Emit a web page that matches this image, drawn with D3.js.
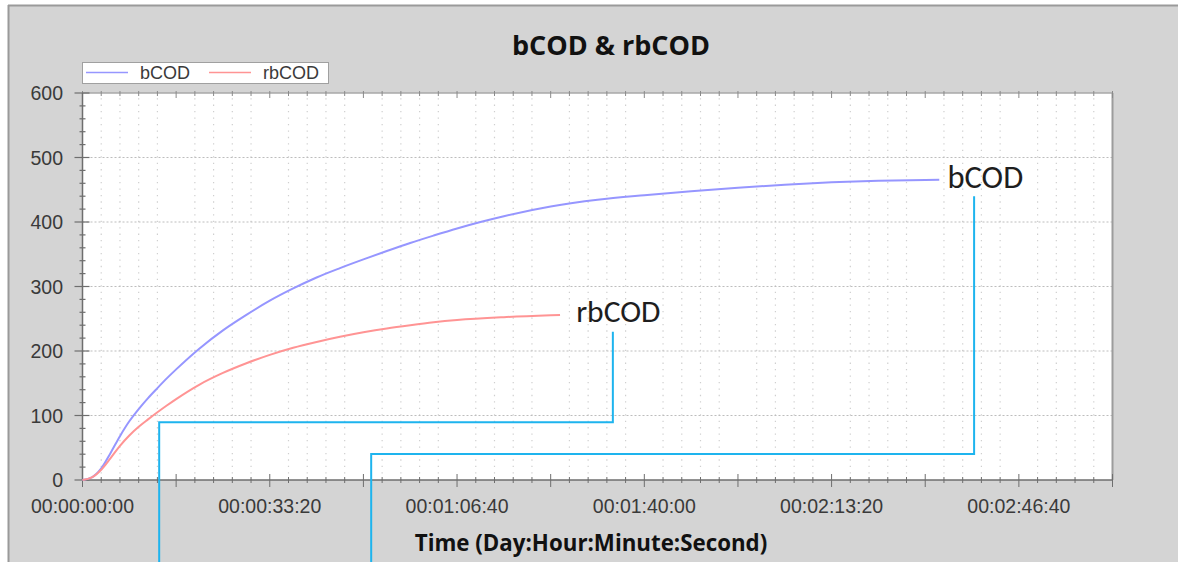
<!DOCTYPE html>
<html><head><meta charset="utf-8">
<script src="https://cdn.jsdelivr.net/npm/d3@7"></script>
<style>
html,body{margin:0;padding:0;background:#fff;}
svg{display:block;}
</style></head>
<body>
<svg id="chart" width="1178" height="562"></svg>
<script>
// ---- data (time in seconds) ----
const bCODTimes = [0,100,200,300,400,500,600,700,800,900,1000,1250,1500,1750,2000,2250,2500,2750,3000,3250,3500,3750,4000,4250,4500,5000,5500,6000,6500,7000,7500,8000,8500,9000,9150];
const bCODValues = [0,4,18,42,68,91,110,127,142.5,157.5,171.5,204,232,256,278,297,314,328.5,342,355,367.5,379,390,400,409,424,434.5,441.5,447.5,453,457.8,461.5,464,465.3,465.5];
const rbCODTimes = [0,100,200,300,400,500,600,700,800,900,1000,1250,1500,1750,2000,2250,2500,2750,3000,3250,3500,3750,4000,4500,5000,5100];
const rbCODValues = [0,4,16,34,53,69,82.5,94,105,115.5,125.5,148,166,181,194,205,214,222,229,235,240,244.5,248,252.5,255.5,256];
const seriesNames = ["bCOD","rbCOD"];
const xLabelTicks = [0,2000,4000,6000,8000,10000];
const yLabelTicks = [0,100,200,300,400,500,600];
const chartTitle = "bCOD & rbCOD";
const xTitle = "Time (Day:Hour:Minute:Second)";
// callouts: label, label anchor and elbow path in data units
const calloutLabels = ["rbCOD","bCOD"];
const calloutLabelT = [5272, 9238];
const calloutLabelV = [245, 452.7];
const calloutPathT = [[5664,5664,819,819],[9522,9522,3083,3083]];
const calloutPathV = [[230,89.5,89.5,-130],[440,40.3,40.3,-130]];

const svg = d3.select("#chart");
const W = 1178, H = 562;
const colors = {bCOD:"#9696ff", rbCOD:"#ff9494"};

// panel
svg.append("rect").attr("x",8).attr("y",5).attr("width",W-8).attr("height",H-5).attr("fill","#d4d4d4");
svg.append("line").attr("x1",8).attr("x2",W).attr("y1",5.5).attr("y2",5.5).attr("stroke","#9a9a9a").attr("stroke-width",2);
svg.append("line").attr("x1",8.5).attr("x2",8.5).attr("y1",5).attr("y2",H).attr("stroke","#9a9a9a").attr("stroke-width",2);

const x = d3.scaleLinear().domain([0,11000]).range([82.5,1112.5]);
const y = d3.scaleLinear().domain([0,600]).range([480,93]);

// plot area
svg.append("rect").attr("x",x(0)).attr("y",y(600)).attr("width",x(11000)-x(0)).attr("height",y(0)-y(600)).attr("fill","#fff");

// vertical minor dotted grid (every 200 s, not at 1000 s multiples)
const minorX = d3.range(200,11000,200).filter(t=>t%1000!==0);
svg.append("g").selectAll("line").data(minorX).join("line")
  .attr("x1",d=>x(d)).attr("x2",d=>x(d)).attr("y1",y(0)).attr("y2",y(600))
  .attr("stroke","#cfcfcf").attr("stroke-width",1.2).attr("stroke-dasharray","1.3,5.15");
// horizontal major dashed grid
svg.append("g").selectAll("line").data(yLabelTicks.filter(v=>v>0&&v<600)).join("line")
  .attr("x1",x(0)).attr("x2",x(11000)).attr("y1",d=>y(d)).attr("y2",d=>y(d))
  .attr("stroke","#bdbdbd").attr("stroke-width",1).attr("stroke-dasharray","2,2");

// frame top & right
svg.append("line").attr("x1",x(0)).attr("x2",x(11000)).attr("y1",y(600)).attr("y2",y(600)).attr("stroke","#a8a8a8").attr("stroke-width",1.5);
svg.append("line").attr("x1",x(11000)).attr("x2",x(11000)).attr("y1",y(600)).attr("y2",y(0)).attr("stroke","#9c9c9c").attr("stroke-width",2);

// axes
const fmt = s => {
  const d=Math.floor(s/86400), h=Math.floor(s%86400/3600), m=Math.floor(s%3600/60), ss=Math.floor(s%60);
  return [d,h,m,ss].map(v=>String(v).padStart(2,"0")).join(":");
};
const axisColor = "#6e6e6e";
const xMinorAll = d3.range(0,11001,200);
const gx = svg.append("g");
gx.append("line").attr("x1",x(0)).attr("x2",x(11000)).attr("y1",y(0)).attr("y2",y(0)).attr("stroke",axisColor).attr("stroke-width",1.5);
gx.selectAll("line.t").data(xMinorAll).join("line").attr("class","t")
  .attr("x1",d=>x(d)).attr("x2",d=>x(d))
  .attr("y1",d=>d%1000===0? y(0)-6 : y(0)-3)
  .attr("y2",d=>d%1000===0? y(0)+7 : y(0)+3)
  .attr("stroke",axisColor).attr("stroke-width",1);
// top mirrored ticks
gx.selectAll("line.tt").data(xMinorAll).join("line").attr("class","tt")
  .attr("x1",d=>x(d)).attr("x2",d=>x(d))
  .attr("y1",y(600)-2).attr("y2",d=>d%1000===0? y(600)+5 : y(600)+3)
  .attr("stroke","#8a8a8a").attr("stroke-width",1);
gx.selectAll("text").data(xLabelTicks).join("text")
  .attr("x",d=>x(d)).attr("y",513).attr("text-anchor","middle")
  .attr("font-family","'Liberation Sans', Arial, sans-serif").attr("font-size",19.5).attr("fill","#3a3a3a")
  .text(fmt);

const gy = svg.append("g");
gy.append("line").attr("x1",x(0)).attr("x2",x(0)).attr("y1",y(0)).attr("y2",y(600)).attr("stroke",axisColor).attr("stroke-width",1.5);
const yMinorAll = d3.range(0,601,20);
gy.selectAll("line.t").data(yMinorAll).join("line").attr("class","t")
  .attr("y1",d=>y(d)).attr("y2",d=>y(d))
  .attr("x1",d=>d%100===0? x(0)-8 : x(0)-3)
  .attr("x2",d=>d%100===0? x(0)+7 : x(0)+3)
  .attr("stroke",axisColor).attr("stroke-width",1.2);
gy.selectAll("text").data(yLabelTicks).join("text")
  .attr("x",63).attr("y",d=>y(d)+7).attr("text-anchor","end")
  .attr("font-family","'Liberation Sans', Arial, sans-serif").attr("font-size",19.5).attr("fill","#3a3a3a")
  .text(d=>d);

// series
const line = d3.line().x(d=>x(d[0])).y(d=>y(d[1])).curve(d3.curveMonotoneX);
const series = [
  {name:seriesNames[0], pts:d3.zip(bCODTimes,bCODValues)},
  {name:seriesNames[1], pts:d3.zip(rbCODTimes,rbCODValues)}
];
svg.append("g").selectAll("path").data(series).join("path")
  .attr("d",d=>line(d.pts)).attr("fill","none")
  .attr("stroke",d=>colors[d.name]).attr("stroke-width",2);

// callouts
const calloutLine = d3.line().x(d=>x(d[0])).y(d=>y(d[1]));
svg.append("g").selectAll("path").data(calloutPathT.map((ts,i)=>d3.zip(ts,calloutPathV[i]))).join("path")
  .attr("d",calloutLine).attr("fill","none").attr("stroke","#1eb4ee").attr("stroke-width",2);
const calloutSizes = [31.5, 32.5];
svg.append("g").selectAll("text").data(calloutLabels).join("text")
  .attr("x",(d,i)=>x(calloutLabelT[i])).attr("y",(d,i)=>y(calloutLabelV[i]))
  .attr("font-family","Carlito, Lato, 'Open Sans', sans-serif").attr("font-size",(d,i)=>calloutSizes[i]).attr("fill","#1e1e1e")
  .text(d=>d);

// legend
const lg = svg.append("g");
lg.append("rect").attr("x",82.5).attr("y",62.5).attr("width",246).attr("height",21).attr("fill","#fff").attr("stroke","#a0a0a0");
const legendX = [86,209];
series.forEach((s,i)=>{
  lg.append("line").attr("x1",legendX[i]).attr("x2",legendX[i]+42).attr("y1",72.5).attr("y2",72.5).attr("stroke",colors[s.name]).attr("stroke-width",1.5);
  lg.append("text").attr("x",legendX[i]+54).attr("y",79).attr("font-family","'Liberation Sans', Arial, sans-serif")
    .attr("font-size",18).attr("fill","#3a3a3a").text(s.name);
});

// titles
svg.append("text").attr("x",611).attr("y",55).attr("text-anchor","middle")
  .attr("font-family","'Open Sans', sans-serif").attr("font-weight","bold").attr("font-size",27).attr("fill","#111").text(chartTitle);
svg.append("text").attr("x",591).attr("y",551).attr("text-anchor","middle")
  .attr("font-family","'Open Sans', sans-serif").attr("font-weight","bold").attr("font-size",22.3).attr("fill","#111").text(xTitle);
</script>
</body></html>
